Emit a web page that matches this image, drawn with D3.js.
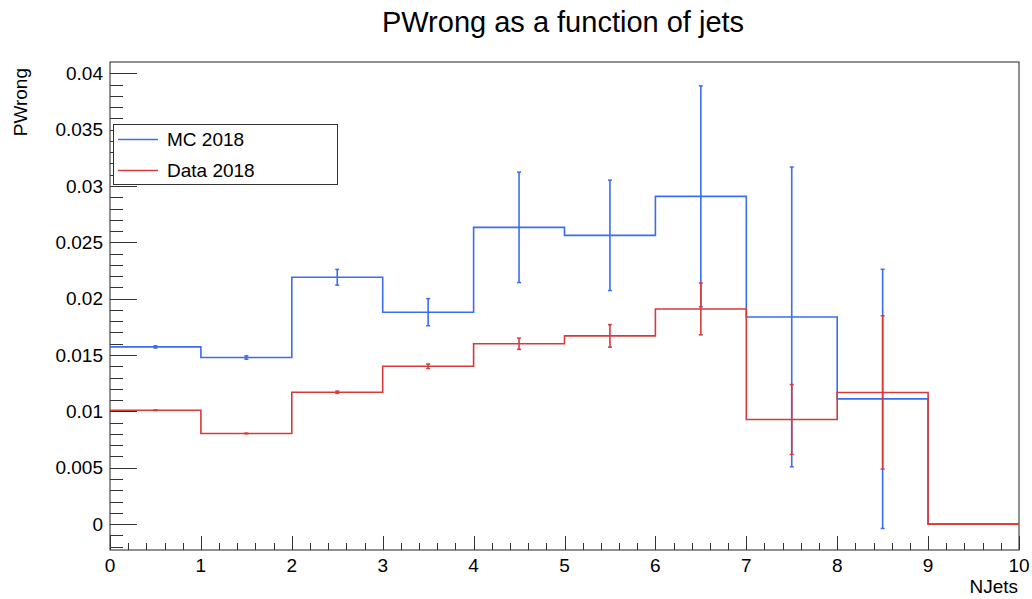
<!DOCTYPE html>
<html>
<head>
<meta charset="utf-8">
<script src="https://cdn.jsdelivr.net/npm/d3@7"></script>
<style>
  body { margin: 0; background: #fff; }
  text { font-family: "Liberation Sans", Arial, sans-serif; fill: #000; }
</style>
</head>
<body>
<div id="chart"></div>
<script>
// bin edges 0..10, one value per bin
var binEdges = [0, 1, 2, 3, 4, 5, 6, 7, 8, 9, 10];
var mcValues = [0.01572, 0.01478, 0.0219, 0.0188, 0.02633, 0.02562, 0.02908, 0.01838, 0.01111, 0];
var mcErrors = [0.0001, 0.00015, 0.0007, 0.0012, 0.0049, 0.0049, 0.0098, 0.0133, 0.0115, 0];
var dataValues = [0.0101, 0.00804, 0.0117, 0.0140, 0.0160, 0.0167, 0.01909, 0.00928, 0.01168, 0];
var dataErrors = [0.00003, 0.00003, 0.0001, 0.0002, 0.0005, 0.001, 0.0023, 0.0031, 0.0068, 0];
var yTicks = [0, 0.005, 0.01, 0.015, 0.02, 0.025, 0.03, 0.035, 0.04];
var xTicks = [0, 1, 2, 3, 4, 5, 6, 7, 8, 9, 10];

var svg = d3.select("#chart")
    .append("svg")
    .attr("width", 1032)
    .attr("height", 599),
    margin = { top: 62, right: 13, bottom: 49, left: 110 },
    width = +svg.attr("width") - margin.left - margin.right,
    height = +svg.attr("height") - margin.top - margin.bottom;

var blue = "#3a6cf4", red = "#d83a3a";

var x = d3.scaleLinear().domain([0, 10]).range([0, width]);
var y = d3.scaleLinear().domain([-0.0023, 0.041]).range([height, 0]);

var g = svg.append("g")
    .attr("transform", "translate(" + margin.left + "," + margin.top + ")");

// title
svg.append("text")
    .attr("x", 563)
    .attr("y", 32)
    .attr("text-anchor", "middle")
    .style("font-size", "29px")
    .text("PWrong as a function of jets");

// frame
g.append("rect")
    .attr("width", width)
    .attr("height", height)
    .attr("fill", "none")
    .attr("stroke", "#222")
    .attr("stroke-width", 1);

// y ticks (ROOT style, inside the frame)
var yMinor = d3.range(-2, 41).map(function (i) { return i / 1000; });
g.selectAll(".ymin")
    .data(yMinor)
    .enter().append("line")
    .attr("x1", 0)
    .attr("x2", function (d) { return Math.abs(d * 200 - Math.round(d * 200)) < 1e-9 ? 27 : 13; })
    .attr("y1", function (d) { return Math.round(y(d)) + 0.5; })
    .attr("y2", function (d) { return Math.round(y(d)) + 0.5; })
    .attr("stroke", "#333");

g.selectAll(".ylab")
    .data(yTicks)
    .enter().append("text")
    .attr("x", -7)
    .attr("y", function (d) { return y(d); })
    .attr("dy", "0.35em")
    .attr("text-anchor", "end")
    .style("font-size", "19px")
    .text(function (d) { return d3.format("")(+d.toFixed(3)); });

// x ticks
var xMinor = d3.range(0, 51).map(function (i) { return i / 5; });
g.selectAll(".xmin")
    .data(xMinor)
    .enter().append("line")
    .attr("x1", function (d) { return Math.round(x(d)) + 0.5; })
    .attr("x2", function (d) { return Math.round(x(d)) + 0.5; })
    .attr("y1", height)
    .attr("y2", function (d, i) { return i % 5 === 0 ? height - 14 : height - 7; })
    .attr("stroke", "#333");

g.selectAll(".xlab")
    .data(xTicks)
    .enter().append("text")
    .attr("x", function (d) { return x(d); })
    .attr("y", height + 22)
    .attr("text-anchor", "middle")
    .style("font-size", "19px")
    .text(function (d) { return d; });

// axis titles
svg.append("text")
    .attr("x", 1018)
    .attr("y", 593)
    .attr("text-anchor", "end")
    .style("font-size", "19px")
    .text("NJets");

svg.append("text")
    .attr("transform", "translate(27,68) rotate(-90)")
    .attr("text-anchor", "end")
    .style("font-size", "19px")
    .text("PWrong");

function drawHist(values, errors, color) {
    var pts = [];
    values.forEach(function (v, i) {
        pts.push([binEdges[i], v]);
        pts.push([binEdges[i + 1], v]);
    });
    g.append("path")
        .datum(pts)
        .attr("fill", "none")
        .attr("stroke", color)
        .attr("stroke-width", 1.6)
        .attr("d", d3.line()
            .x(function (d) { return x(d[0]); })
            .y(function (d) { return y(d[1]); }));

    var bars = values.map(function (v, i) {
        return { c: (binEdges[i] + binEdges[i + 1]) / 2, v: v, e: errors[i] };
    }).filter(function (d) { return d.e > 0; });

    g.selectAll(null)
        .data(bars)
        .enter().append("line")
        .attr("x1", function (d) { return x(d.c); })
        .attr("x2", function (d) { return x(d.c); })
        .attr("y1", function (d) { return y(d.v - d.e); })
        .attr("y2", function (d) { return y(d.v + d.e); })
        .attr("stroke", color)
        .attr("stroke-width", 1.6);

    [-1, 1].forEach(function (s) {
        g.selectAll(null)
            .data(bars)
            .enter().append("line")
            .attr("x1", function (d) { return x(d.c) - 2; })
            .attr("x2", function (d) { return x(d.c) + 2; })
            .attr("y1", function (d) { return y(d.v + s * d.e); })
            .attr("y2", function (d) { return y(d.v + s * d.e); })
            .attr("stroke", color)
            .attr("stroke-width", 1.5);
    });
}

drawHist(mcValues, mcErrors, blue);
drawHist(dataValues, dataErrors, red);

// legend
var legendItems = [{ name: "MC 2018", color: blue }, { name: "Data 2018", color: red }];
var legend = svg.append("g");
legend.append("rect")
    .attr("x", 113.5)
    .attr("y", 124.5)
    .attr("width", 224)
    .attr("height", 60)
    .attr("fill", "#fff")
    .attr("stroke", "#333");
legend.selectAll(".li")
    .data(legendItems)
    .enter().append("line")
    .attr("x1", 118)
    .attr("x2", 158)
    .attr("y1", function (d, i) { return 139.5 + i * 31; })
    .attr("y2", function (d, i) { return 139.5 + i * 31; })
    .attr("stroke", function (d) { return d.color; })
    .attr("stroke-width", 1.5);
legend.selectAll(".lt")
    .data(legendItems)
    .enter().append("text")
    .attr("x", 167)
    .attr("y", function (d, i) { return 139.5 + i * 31; })
    .attr("dy", "0.35em")
    .style("font-size", "19px")
    .text(function (d) { return d.name; });
</script>
</body>
</html>
